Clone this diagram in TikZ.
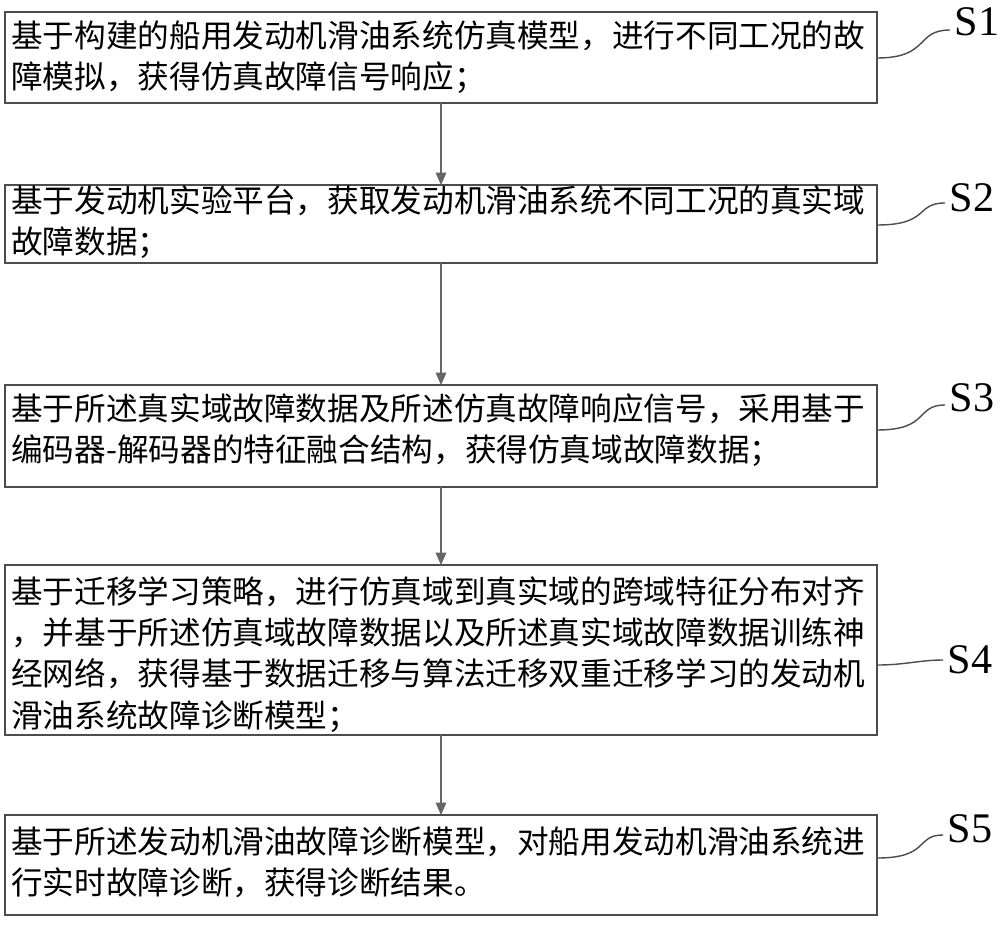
\documentclass[tikz,border=0pt]{standalone}
\usepackage{fontspec}
\setmainfont{Liberation Serif}
\newfontfamily\cjk{Noto Sans CJK SC}
\usetikzlibrary{arrows.meta,positioning}
\begin{document}
\begin{tikzpicture}[x=0.02cm,y=-0.02cm]
\tikzstyle{stepbox}=[inner sep=0pt,font=\cjk\fontsize{18pt}{23.5pt}\selectfont,align=left,anchor=north west,text width=17.3cm]
\tikzstyle{frame}=[draw=black!70,line width=0.8pt]
\tikzstyle{lbl}=[font=\fontsize{24pt}{26pt}\selectfont]
\tikzstyle{flow}=[draw=black!60,line width=0.8pt,-{Triangle[length=7pt,width=6pt]}]
\tikzstyle{hook}=[draw=black!70,line width=0.8pt]
\useasboundingbox (0,0) rectangle (1000,946);

%boxes
\draw[frame] (5,12) rectangle (877,103);
\node[stepbox] (s1) at (11,20) {基于构建的船用发动机滑油系统仿真模型，进行不同工况的故\\障模拟，获得仿真故障信号响应；};
\draw[frame] (5,185) rectangle (877,263);
\node[stepbox] (s2) at (11,185) {基于发动机实验平台，获取发动机滑油系统不同工况的真实域\\故障数据；};
\draw[frame] (5,385) rectangle (877,487);
\node[stepbox] (s3) at (11,393) {基于所述真实域故障数据及所述仿真故障响应信号，采用基于\\编码器-解码器的特征融合结构，获得仿真域故障数据；};
\draw[frame] (5,565) rectangle (877,735);
\node[stepbox] (s4) at (11,576) {基于迁移学习策略，进行仿真域到真实域的跨域特征分布对齐\\，并基于所述仿真域故障数据以及所述真实域故障数据训练神\\经网络，获得基于数据迁移与算法迁移双重迁移学习的发动机\\滑油系统故障诊断模型；};
\draw[frame] (5,815) rectangle (877,915);
\node[stepbox] (s5) at (11,826) {基于所述发动机滑油故障诊断模型，对船用发动机滑油系统进\\行实时故障诊断，获得诊断结果。};

%arrows
\coordinate (a1) at (441,103); \coordinate (b1) at (441,185);
\coordinate (a2) at (441,263); \coordinate (b2) at (441,385);
\coordinate (a3) at (441,487); \coordinate (b3) at (441,565);
\coordinate (a4) at (441,735); \coordinate (b4) at (441,815);
\draw[flow] (a1) -- (b1);
\draw[flow] (a2) -- (b2);
\draw[flow] (a3) -- (b3);
\draw[flow] (a4) -- (b4);

%labels
\node[lbl] (l1) at (977,22) {S1};
\node[lbl] (l2) at (972,198) {S2};
\node[lbl] (l3) at (972,398) {S3};
\node[lbl] (l4) at (970,660) {S4};
\node[lbl] (l5) at (970,829) {S5};
\draw[hook] (877,58) .. controls (930,58) and (915,30) .. (950,30);
\draw[hook] (877,225) .. controls (930,225) and (915,203) .. (945,203);
\draw[hook] (877,430) .. controls (930,430) and (915,405) .. (945,405);
\draw[hook] (877,665) .. controls (905,665) and (920,660) .. (943,660);
\draw[hook] (877,858) .. controls (930,858) and (915,835) .. (943,835);
\end{tikzpicture}
\end{document}
